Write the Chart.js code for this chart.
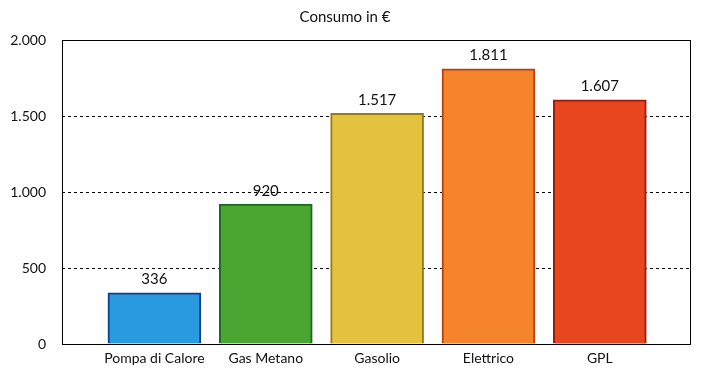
<!DOCTYPE html>
<html>
<head>
<meta charset="utf-8">
<script src="https://cdn.jsdelivr.net/npm/chart.js"></script>
<style>
  html, body { margin: 0; padding: 0; background: #fff; }
  #wrap { width: 709px; height: 375px; }
</style>
</head>
<body>
<div id="wrap"><canvas id="c"></canvas></div>
<script>
    const titolo = "Consumo in €";
    const categorie = ["Pompa di Calore", "Gas Metano", "Gasolio", "Elettrico", "GPL"];
    const consumi = [336, 920, 1517, 1811, 1607];
    const riempimento = ["#2a9ae0", "#4aa532", "#e2c23e", "#f5842c", "#e8461f"];
    const bordi = ["#0d3f8c", "#1d6a1d", "#9a7a12", "#b8400f", "#9c1c0a"];
    const yTicks = [0, 500, 1000, 1500, 2000];

    const FONT = "Lato, 'Open Sans', sans-serif";

    function formatIt(v) {
        return v.toLocaleString("it-IT");
    }

    // cornice nera attorno all'area del grafico
    const cornice = {
        id: "cornice",
        afterDraw(chart) {
            const { ctx, chartArea: a } = chart;
            ctx.save();
            ctx.strokeStyle = "#000";
            ctx.lineWidth = 1;
            ctx.strokeRect(Math.round(a.left) + 0.5, Math.round(a.top) + 0.5,
                Math.round(a.right - a.left), Math.round(a.bottom - a.top));
            ctx.restore();
        }
    };

    // valori sopra le barre
    const etichette = {
        id: "etichette",
        afterDatasetsDraw(chart) {
            const { ctx } = chart;
            const meta = chart.getDatasetMeta(0);
            ctx.save();
            ctx.font = "15px " + FONT;
            ctx.fillStyle = "#111";
            ctx.textAlign = "center";
            ctx.textBaseline = "bottom";
            meta.data.forEach((bar, i) => {
                ctx.fillText(formatIt(consumi[i]), bar.x, bar.y - 6);
            });
            ctx.restore();
        }
    };

    new Chart(document.getElementById("c"), {
        type: "bar",
        data: {
            datasets: [{
                data: consumi.map((v, i) => ({ x: i, y: v })),
                backgroundColor: riempimento,
                borderColor: bordi,
                borderWidth: 2,
                barThickness: 93
            }]
        },
        options: {
            responsive: true,
            maintainAspectRatio: false,
            animation: false,
            layout: { padding: { left: 0, right: 19, top: 0, bottom: 0 } },
            plugins: {
                legend: { display: false },
                tooltip: { enabled: false },
                title: {
                    display: true,
                    text: titolo,
                    color: "#111",
                    font: { family: FONT, size: 15, weight: "normal" },
                    padding: { top: 8, bottom: 14 }
                }
            },
            scales: {
                x: {
                    type: "linear",
                    offset: false,
                    min: -0.83,
                    max: 4.81,
                    afterBuildTicks: ax => { ax.ticks = categorie.map((_, i) => ({ value: i })); },
                    afterFit: ax => { ax.height = 31; },
                    grid: { display: false, drawTicks: false, offset: false },
                    border: { display: false },
                    ticks: {
                        padding: 6,
                        color: "#111",
                        font: { family: FONT, size: 14 },
                        maxRotation: 0,
                        autoSkip: false,
                        callback: v => categorie[v] ?? ""
                    }
                },
                y: {
                    min: 0,
                    max: 2000,
                    afterBuildTicks: ax => { ax.ticks = yTicks.map(v => ({ value: v })); },
                    afterFit: ax => { ax.width = 62; },
                    grid: {
                        color: c => (c.tick && (c.tick.value === 0 || c.tick.value === 2000)) ? "rgba(0,0,0,0)" : "#000",
                        lineWidth: 1,
                        drawTicks: false
                    },
                    border: { display: false, dash: [3, 3] },
                    ticks: {
                        padding: 16,
                        color: "#111",
                        font: { family: FONT, size: 14 },
                        callback: v => formatIt(v)
                    }
                }
            }
        },
        plugins: [cornice, etichette]
    });
</script>
</body>
</html>
